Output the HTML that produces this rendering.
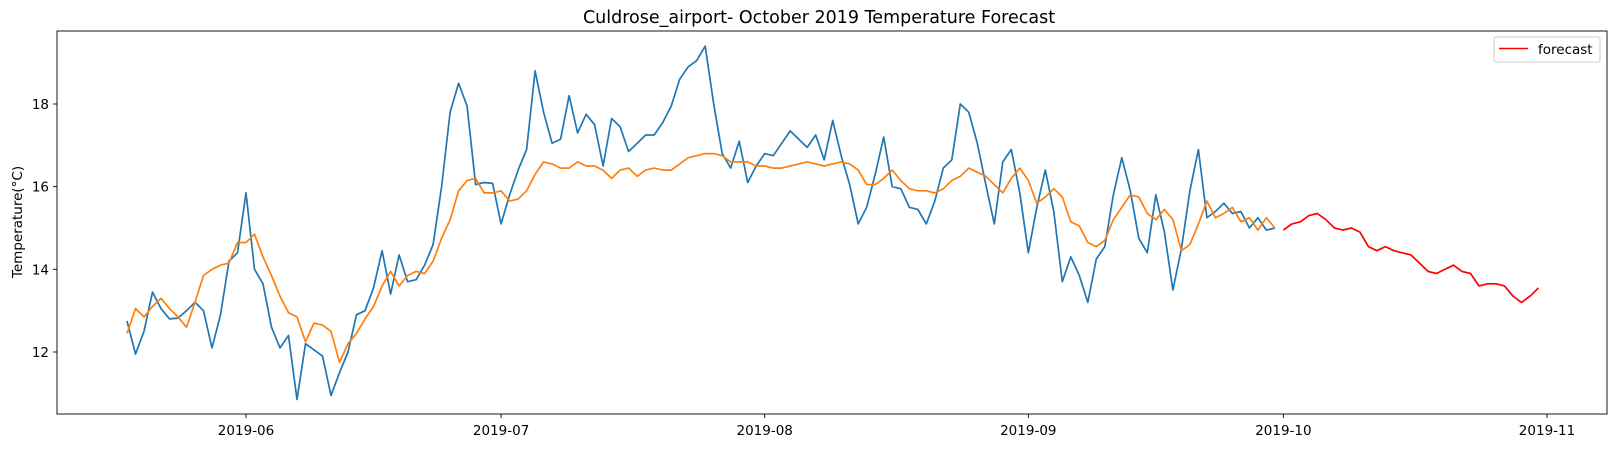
<!DOCTYPE html>
<html><head><meta charset="utf-8">
<style>
body{margin:0;background:#fff;font-family:"Liberation Sans","DejaVu Sans",sans-serif;}
svg text{font-family:"DejaVu Sans","Liberation Sans",sans-serif;}
</style></head>
<body>
<svg id="chart" width="1617" height="449" xmlns="http://www.w3.org/2000/svg">
<rect width="1617" height="449" fill="#fff"/>
<text x="819" y="23" text-anchor="middle" font-size="17.5">Culdrose_airport- October 2019 Temperature Forecast</text>
<text transform="translate(22,222) rotate(-90)" text-anchor="middle" font-size="13.5">Temperature(°C)</text>
<g id="grid"></g>
<g id="series"></g>
<rect x="57" y="31" width="1550" height="383" fill="none" stroke="#000" stroke-width="0.9"/>
<g>
<rect x="1494" y="37" width="106" height="25" fill="#fff" stroke="#ccc" rx="2"/>
<line x1="1499" y1="48.5" x2="1528" y2="48.5" stroke="red" stroke-width="1.6"/>
<text x="1538" y="54" font-size="13.5">forecast</text>
</g>
</svg>
<script>
const actual = [12.75,11.95,12.5,13.45,13.05,12.8,12.82,13.0,13.2,13.0,12.1,12.9,14.2,14.4,
15.85,14.0,13.65,12.6,12.1,12.4,10.85,12.2,12.05,11.9,10.95,11.5,12.0,12.9,13.0,13.55,14.45,13.4,14.35,13.7,13.75,14.1,14.6,16.0,17.8,18.5,17.95,16.05,16.1,16.08,
15.1,15.8,16.4,16.9,18.8,17.8,17.05,17.15,18.2,17.3,17.75,17.5,16.5,17.65,17.45,16.85,17.05,17.25,17.25,17.55,17.95,18.6,18.9,19.05,19.4,18.0,16.8,16.45,17.1,16.1,16.5,
16.8,16.75,17.05,17.35,17.15,16.95,17.25,16.65,17.6,16.75,16.05,15.1,15.5,16.3,17.2,16.0,15.95,15.5,15.45,15.1,15.65,16.45,16.65,18.0,17.8,17.05,16.05,15.1,16.6,16.9,15.85,
14.4,15.5,16.4,15.4,13.7,14.3,13.85,13.2,14.25,14.55,15.8,16.7,15.9,14.75,14.4,15.8,14.9,13.5,14.5,15.9,16.9,15.25,15.4,15.6,15.35,15.4,15.0,15.25,14.95,15.0];
const smoothed = [12.45,13.05,12.85,13.1,13.3,13.05,12.85,12.6,13.2,13.85,14.0,14.1,14.15,14.65,
14.65,14.85,14.3,13.85,13.35,12.95,12.85,12.25,12.7,12.65,12.5,11.75,12.2,12.45,12.8,13.1,13.6,13.95,13.6,13.85,13.95,13.9,14.2,14.75,15.2,15.9,16.15,16.2,15.85,15.85,
15.9,15.65,15.7,15.9,16.3,16.6,16.55,16.45,16.45,16.6,16.5,16.5,16.4,16.2,16.4,16.45,16.25,16.4,16.45,16.4,16.4,16.55,16.7,16.75,16.8,16.8,16.75,16.6,16.6,16.6,16.5,
16.5,16.45,16.45,16.5,16.55,16.6,16.55,16.5,16.55,16.6,16.55,16.4,16.05,16.05,16.2,16.4,16.15,15.95,15.9,15.9,15.85,15.95,16.15,16.25,16.45,16.35,16.25,16.05,15.85,16.2,16.45,
16.15,15.6,15.75,15.95,15.75,15.15,15.05,14.65,14.55,14.7,15.2,15.5,15.8,15.75,15.35,15.2,15.45,15.2,14.45,14.6,15.1,15.65,15.25,15.35,15.5,15.15,15.25,14.95,15.25,15.0];
const forecast = [14.95,15.1,15.15,15.3,15.35,15.2,15.0,14.95,15.0,14.9,14.55,14.45,14.55,14.45,14.4,14.35,14.15,13.95,13.9,14.0,14.1,13.95,13.9,13.6,13.65,13.65,13.6,13.35,13.2,13.35,13.55];
const yTicks = [12,14,16,18];
const xTickLabels = ["2019-06","2019-07","2019-08","2019-09","2019-10","2019-11"];
const xTickDays = [0,30,61,92,122,153];
const actualStartDay = -14;   // 2019-05-18 relative to 2019-06-01
const forecastStartDay = 122; // 2019-10-01

const NS="http://www.w3.org/2000/svg";
const xs = d => 246 + d*(1547-246)/153;
const ys = v => 352 - (v-12)*(352-104)/6;
const grid=document.getElementById('grid'), ser=document.getElementById('series');
function mk(tag,attrs,parent){const e=document.createElementNS(NS,tag);for(const k in attrs)e.setAttribute(k,attrs[k]);parent.appendChild(e);return e;}
yTicks.forEach(v=>{
  const l=mk('line',{x1:53,x2:57,y1:ys(v),y2:ys(v),stroke:'#000','stroke-width':0.9},grid);
  
  
  const t=mk('text',{x:49,y:ys(v)+5,'text-anchor':'end','font-size':13.5},grid);
  t.textContent=v;
  
  
});
xTickLabels.forEach((s,i)=>{
  const x=xs(xTickDays[i]);
  const l=mk('line',{x1:x,x2:x,y1:414,y2:418,stroke:'#000','stroke-width':0.9},grid);
  
  
  const t=mk('text',{x:x,y:435,'text-anchor':'middle','font-size':13.5},grid);
  t.textContent=s;
  
  
});
function line(arr,start,color,name){
  const pts=arr.map((v,i)=>xs(start+i).toFixed(1)+','+ys(v).toFixed(1)).join(' ');
  const p=mk('polyline',{points:pts,fill:'none',stroke:color,'stroke-width':1.7,'stroke-linejoin':'round'},ser);
  
  
}
line(actual,actualStartDay,'#1f77b4','actual-temperature-line');
line(smoothed,actualStartDay,'#ff7f0e','smoothed-temperature-line');
line(forecast,forecastStartDay,'#ff0000','forecast-line');
</script>
</body></html>
